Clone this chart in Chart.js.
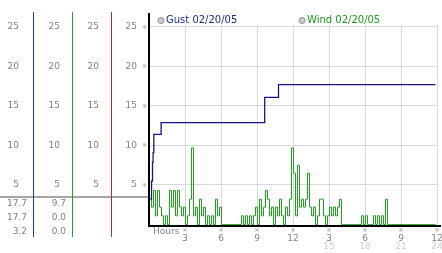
<!DOCTYPE html>
<html><head><meta charset="utf-8">
<style>html,body{margin:0;padding:0;background:#fff;overflow:hidden}</style>
<script src="https://cdn.jsdelivr.net/npm/chart.js@4/dist/chart.umd.min.js"></script>
</head><body>
<canvas id="c" width="442" height="253" style="display:block;width:442px;height:253px"></canvas>
<script>
// ---- data ----
const seriesLabels = ['Gust 02/20/05', 'Wind 02/20/05'];
const gustHours  = [0.08, 0.17, 0.25, 0.30, 0.36, 0.97, 9.60, 10.75, 23.83];
const gustValues = [3.2, 5.5, 7.9, 9.1, 11.4, 12.9, 16.1, 17.7, 17.7];
const windStartHour = 0;
const windStepHours = 1 / 6;
const windValues = [
  3.2, 2.2, 4.3, 1.1, 4.3, 2.2, 1.1, 0, 1.1, 0,
  4.3, 2.2, 4.3, 1.1, 4.3, 2.2, 1.1, 2.2, 0, 1.1,
  3.2, 9.7, 1.1, 2.2, 0, 3.2, 1.1, 2.2, 0, 1.1,
  0, 1.1, 0, 3.2, 1.1, 2.2, 0, 0, 0, 0,
  0, 0, 0, 0, 0, 0, 1.1, 0, 1.1, 0,
  1.1, 0, 1.1, 2.2, 0, 3.2, 1.1, 2.2, 4.3, 3.2,
  1.1, 2.2, 0, 2.2, 1.1, 3.2, 1.1, 0, 2.2, 1.1,
  3.2, 9.7, 6.5, 1.1, 7.5, 2.2, 3.2, 2.2, 3.2, 6.5,
  2.2, 1.1, 2.2, 0, 1.1, 3.2, 3.2, 1.1, 0, 1.1,
  2.2, 1.1, 2.2, 1.1, 2.2, 3.2, 0, 0, 0, 0,
  0, 0, 0, 0, 0, 0, 1.1, 0, 1.1, 0,
  0, 0, 1.1, 0, 1.1, 0, 1.1, 0, 3.2, 0,
  0, 0, 0, 0, 0, 0, 0, 0, 0, 0,
  0, 0, 0, 0, 0, 0, 0, 0, 0, 0,
  0, 0, 0, 0
];
const yTickValues = [5, 10, 15, 20, 25];
const xTickValues = [0, 3, 6, 9, 12, 15, 18, 21, 24];
const xTickLabels  = ['', '3', '6', '9', '12', '3', '6', '9', '12'];
const xTickLabels2 = ['', '', '', '', '', '15', '18', '21', '24'];
const xAxisTitle = 'Hours';

// ---- styles ----
const FONT = 'DejaVu Sans';
const LABEL = '#808080';
const GRID = '#d9d9d9';
const GUST_COLOR = '#14148c';
const WIND_COLOR = '#22a022';
const Y_MIN = -0.19, Y_MAX = 25.25;

function fixW(w) { return s => { s.width = w; s.paddingTop = 0; s.paddingBottom = 0; }; }
function fixH(h) { return s => { s.height = h; s.paddingLeft = 0; s.paddingRight = 0; }; }
function yTicks(s) { s.ticks = yTickValues.map(v => ({ value: v })); }
function xTicks(s) { s.ticks = xTickValues.map(v => ({ value: v })); }

function sideAxis(weight, width, pad) {
  return {
    type: 'linear', position: 'left', weight: weight, min: Y_MIN, max: Y_MAX,
    afterBuildTicks: yTicks, afterFit: fixW(width),
    grid: { display: false, drawTicks: false }, border: { display: false },
    ticks: { font: { family: FONT, size: 9 }, color: LABEL, padding: pad, callback: v => String(v) }
  };
}

const crisp = {
  id: 'crisp',
  beforeDatasetsDraw(chart) { chart.ctx.save(); chart.ctx.translate(0.5, 0); },
  afterDatasetsDraw(chart) { chart.ctx.restore(); }
};

const deco = {
  id: 'deco',
  afterDraw(chart) {
    const ctx = chart.ctx, ca = chart.chartArea, s = chart.scales;
    ctx.save();
    // separator
    ctx.strokeStyle = '#a6a6a6'; ctx.lineWidth = 2;
    ctx.beginPath(); ctx.moveTo(0, 197); ctx.lineTo(ca.left - 1, 197); ctx.stroke();
    // coloured column lines
    [['y1', '#23409a'], ['y2', '#2a9a2a'], ['y3', '#b03030']].forEach(([id, c]) => {
      const x = Math.round(s[id].right) + 0.5;
      ctx.strokeStyle = c; ctx.lineWidth = 1;
      ctx.beginPath(); ctx.moveTo(x, 12); ctx.lineTo(x, 237); ctx.stroke();
    });
    // axis extensions
    ctx.strokeStyle = '#000'; ctx.lineWidth = 2;
    ctx.beginPath(); ctx.moveTo(Math.round(ca.left), 13); ctx.lineTo(Math.round(ca.left), ca.top); ctx.stroke();
    ctx.beginPath(); ctx.moveTo(ca.right, Math.round(ca.bottom)); ctx.lineTo(441, Math.round(ca.bottom)); ctx.stroke();
    // stats
    ctx.font = '9px "' + FONT + '"'; ctx.fillStyle = LABEL;
    ctx.textAlign = 'right'; ctx.textBaseline = 'middle';
    const stats = (arr) => [Math.max(...arr), arr[arr.length - 1], Math.min(...arr)];
    const rows = [204, 218, 232];
    stats(gustValues).forEach((v, i) => ctx.fillText(v.toFixed(1), s.y1.right - 6, rows[i]));
    stats(windValues).forEach((v, i) => ctx.fillText(v.toFixed(1), s.y2.right - 6, rows[i]));
    // Hours label
    ctx.textAlign = 'left';
    ctx.fillText(xAxisTitle, ca.left + 4, 231.5);
    // tick marks (reference mark glyph)
    ctx.font = '6px "' + FONT + '"'; ctx.fillStyle = '#9a9a9a'; ctx.textAlign = 'center';
    yTickValues.forEach(v => ctx.fillText('\u203B', ca.left - 4.5, s.y.getPixelForValue(v)));
    xTickValues.slice(1).forEach(v => ctx.fillText('\u203B', s.x.getPixelForValue(v), 230));
    // legend
    const items = [[ca.left + 12, '#1c2c8c'], [ca.left + 153, '#1a9a1a']];
    ctx.font = '10px "' + FONT + '"'; ctx.textAlign = 'left';
    items.forEach(([x, tc], i) => {
      ctx.beginPath(); ctx.arc(x, 20.5, 3, 0, Math.PI * 2);
      ctx.fillStyle = '#cccccc'; ctx.fill();
      ctx.strokeStyle = '#909090'; ctx.lineWidth = 1; ctx.stroke();
      ctx.fillStyle = tc;
      ctx.fillText(chart.data.datasets[i].label, x + 5, 20.5);
    });
    ctx.restore();
  }
};

new Chart(document.getElementById('c'), {
  type: 'line',
  data: {
    datasets: [
      { label: seriesLabels[0], data: gustHours.map((h, i) => ({ x: h, y: gustValues[i] })),
        borderColor: GUST_COLOR, backgroundColor: 'transparent', borderWidth: 1.3, stepped: true, pointRadius: 0, fill: false },
      { label: seriesLabels[1], data: windValues.map((v, i) => ({ x: windStartHour + i * windStepHours, y: v })),
        borderColor: WIND_COLOR, backgroundColor: 'transparent', borderWidth: 1, stepped: true, pointRadius: 0, fill: false }
    ]
  },
  options: {
    responsive: false, animation: false, devicePixelRatio: 1,
    layout: { padding: { top: 25, right: 5, left: 0, bottom: 0 } },
    plugins: { legend: { display: false }, tooltip: { enabled: false } },
    scales: {
      y1: sideAxis(3, 33, 14),
      y2: sideAxis(2, 39, 12),
      y3: sideAxis(1, 39, 12),
      y: {
        type: 'linear', position: 'left', weight: 0, min: Y_MIN, max: Y_MAX,
        afterBuildTicks: yTicks, afterFit: fixW(38),
        grid: { color: GRID, lineWidth: 1, drawTicks: false },
        border: { display: true, color: '#000', width: 2 },
        ticks: { font: { family: FONT, size: 9 }, color: LABEL, padding: 12, callback: v => String(v) }
      },
      x: {
        type: 'linear', position: 'bottom', weight: 0, min: 0, max: 24,
        afterBuildTicks: xTicks, afterFit: fixH(15),
        grid: { color: GRID, lineWidth: 1, drawTicks: false },
        border: { display: true, color: '#000', width: 2 },
        ticks: { font: { family: FONT, size: 9 }, color: LABEL, padding: 7, autoSkip: false, maxRotation: 0,
                 callback: (v, i) => xTickLabels[i] }
      },
      x2: {
        type: 'linear', position: 'bottom', weight: 1, min: 0, max: 24,
        afterBuildTicks: xTicks, afterFit: fixH(12),
        grid: { display: false, drawTicks: false }, border: { display: false },
        ticks: { font: { family: FONT, size: 9 }, color: '#cfcfcf', padding: 0, autoSkip: false, maxRotation: 0,
                 callback: (v, i) => xTickLabels2[i] }
      }
    }
  },
  plugins: [crisp, deco]
});
</script>
</body></html>
